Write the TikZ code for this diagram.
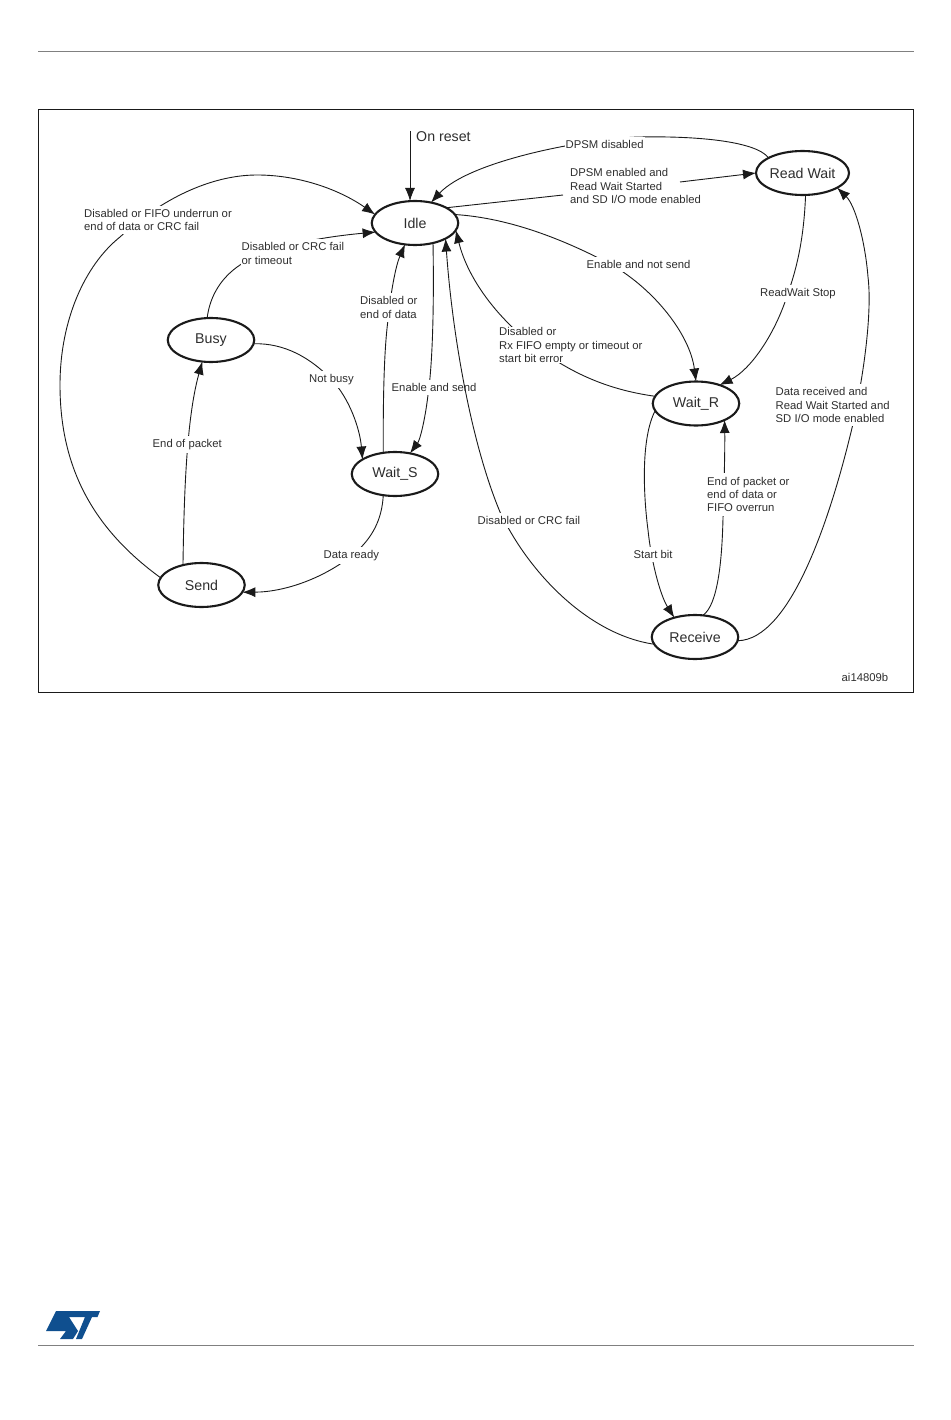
\documentclass[tikz,border=0pt]{standalone}
\usepackage{fontspec}
\setmainfont{Liberation Sans}
\usepackage{xcolor}
\usetikzlibrary{arrows.meta, shapes.geometric}
\definecolor{stline}{HTML}{1A1A1A}
\definecolor{sttext}{HTML}{2E2E2E}
\definecolor{strule}{HTML}{808080}
\definecolor{stblue}{HTML}{0F4F8F}
\tikzset{
  dpsm state/.style={
    ellipse,
    draw=stline,
    line width=2.1pt,
    fill=white,
    minimum width=86.5pt,
    minimum height=44pt,
    inner sep=0pt,
    outer sep=0pt,
    text=sttext,
    font=\fontsize{14.2}{16}\selectfont
  },
  dpsm arrow/.style={
    -{Latex[length=13pt,width=10pt]},
    line width=0.9pt,
    color=stline
  },
  dpsm label/.style={
    anchor=west,
    fill=white,
    align=left,
    inner xsep=1pt,
    inner ysep=3.5pt,
    text=sttext,
    font=\fontsize{11.3}{13.4}\selectfont
  },
  page rule/.style={strule, line width=1pt}
}
\begin{document}
\begin{tikzpicture}[x=1pt, y=-1pt]
  \useasboundingbox (0,0) rectangle (950,1420);

  % Page furniture
  \coordinate (ruletopl) at (38,51.5);
  \coordinate (ruletopr) at (914,51.5);
  \coordinate (rulebotl) at (38,1345);
  \coordinate (rulebotr) at (914,1345);
  \draw[page rule] (ruletopl) -- (ruletopr);
  \draw[page rule] (rulebotl) -- (rulebotr);
  \draw[stline, line width=0.8pt] (38,109) rectangle (913,692);

  % States
  \node[dpsm state] (idle) at (415,223) {Idle};
  \node[dpsm state, minimum width=88pt] (readwait) at (802.5,173) {Read Wait};
  \node[dpsm state] (busy) at (211,340) {Busy};
  \node[dpsm state] (waits) at (395,474) {Wait\_S};
  \node[dpsm state] (waitr) at (696,403.5) {Wait\_R};
  \node[dpsm state] (send) at (201.5,585) {Send};
  \node[dpsm state] (receive) at (695,637) {Receive};

  % Reset
  \coordinate (reset) at (410,131);
  \draw[dpsm arrow] (reset) -- (reset |- idle.north);
  \node[dpsm label, fill=none, font=\fontsize{14.2}{16}\selectfont] (resetlabel) at (415,136.5) {On reset};

  % Idle and Read Wait
  \coordinate (gapleft) at (563,195);
  \coordinate (gapright) at (680,182);
  \draw[dpsm arrow] (readwait.156) .. controls (755,140) and (690,136) .. (640,137)
    .. controls (590,138) and (470,160) .. (idle.52);
  \draw[stline, line width=0.9pt] (idle.26) -- (gapleft);
  \draw[dpsm arrow] (gapright) -- (readwait.west);
  \draw[dpsm arrow] (idle.12) .. controls (510,218) and (565,240) .. (612,265)
    .. controls (655,290) and (690,335) .. (waitr.north);
  \draw[dpsm arrow] (readwait.-82) .. controls (804,235) and (798,265) .. (788,293)
    .. controls (775,335) and (750,370) .. (waitr.38);
  \draw[dpsm arrow] (waitr.170) .. controls (610,390) and (575,375) .. (540,350)
    .. controls (500,322) and (468,280) .. (idle.-10);
  \node[dpsm label] (dpsmoff) at (564.5,144.5) {DPSM disabled};
  \node[dpsm label, fill=none] (dpsmon) at (569,186) {DPSM enabled and\\Read Wait Started\\and SD I/O mode enabled};
  \node[dpsm label] (enablenot) at (585.5,264.5) {Enable and not send};
  \node[dpsm label] (rwstop) at (759,293.5) {ReadWait Stop};
  \node[dpsm label, inner ysep=0.5pt] (rxfail) at (498,345) {Disabled or\\Rx FIFO empty or timeout or\\start bit error};

  % Idle and Wait_S
  \draw[dpsm arrow] (idle.-48) .. controls (434,300) and (433,360) .. (428,395)
    .. controls (425,420) and (420,440) .. (waits.54);
  \draw[dpsm arrow] (waits.119) .. controls (383,400) and (384,350) .. (388,320)
    .. controls (391,290) and (396,265) .. (idle.245);
  \node[dpsm label] (enablesend) at (390.5,387.5) {Enable and send};
  \node[dpsm label] (endofdata) at (359,307.5) {Disabled or\\end of data};

  % Transmit side
  \draw[dpsm arrow] (busy.-5) .. controls (285,343) and (310,358) .. (330,378)
    .. controls (350,398) and (360,430) .. (waits.156);
  \draw[dpsm arrow] (busy.100) .. controls (210,295) and (222,277) .. (240,265)
    .. controls (260,250) and (310,238) .. (idle.193);
  \draw[dpsm arrow] (send.133) .. controls (184,500) and (186,420) .. (busy.248);
  \draw[dpsm arrow] (send.170) .. controls (95,530) and (60,470) .. (60,385)
    .. controls (60,320) and (85,265) .. (120,237)
    .. controls (160,200) and (210,175) .. (257,175)
    .. controls (300,175) and (340,190) .. (idle.168);
  \draw[dpsm arrow] (waits.241) .. controls (382,520) and (372,538) .. (355,553)
    .. controls (325,578) and (285,592) .. (send.-10);
  \node[dpsm label] (notbusy) at (308,379.5) {Not busy};
  \node[dpsm label] (crctimeout) at (240.5,253.5) {Disabled or CRC fail\\or timeout};
  \node[dpsm label] (endpacket) at (151.5,444.5) {End of packet};
  \node[dpsm label] (underrun) at (83,220) {Disabled or FIFO underrun or\\end of data or CRC fail};
  \node[dpsm label] (dataready) at (322.5,555.5) {Data ready};

  % Receive side
  \draw[dpsm arrow] (waitr.190) .. controls (640,440) and (644,500) .. (648,530)
    .. controls (651,560) and (660,595) .. (receive.137);
  \draw[dpsm arrow] (receive.70) .. controls (718,605) and (722,560) .. (723,518)
    .. controls (724,490) and (725,450) .. (waitr.-30);
  \draw[dpsm arrow] (receive.-5) .. controls (790,640) and (830,520) .. (852,428)
    .. controls (865,370) and (872,310) .. (868,277)
    .. controls (865,240) and (855,205) .. (readwait.-23);
  \draw[dpsm arrow] (receive.190) .. controls (590,635) and (530,575) .. (500,512)
    .. controls (470,440) and (452,330) .. (idle.-27);
  \node[dpsm label] (crcfail) at (476.5,520.5) {Disabled or CRC fail};
  \node[dpsm label] (startbit) at (632.5,554.5) {Start bit};
  \node[dpsm label] (overrun) at (706,494.5) {End of packet or\\end of data or\\FIFO overrun};
  \node[dpsm label] (received) at (774.5,405) {Data received and\\Read Wait Started and\\SD I/O mode enabled};
  \node[dpsm label, fill=none] (figref) at (840.5,677.5) {ai14809b};

  % Logo
  \fill[stblue] (56,1311) -- (100,1311) -- (97.5,1317) -- (92,1317) -- (82,1339) -- (76,1339)
    -- (85,1317) -- (69,1317) -- (78,1331) -- (73,1339) -- (60,1339) -- (66,1331) -- (46,1331) -- cycle;
\end{tikzpicture}
\end{document}
